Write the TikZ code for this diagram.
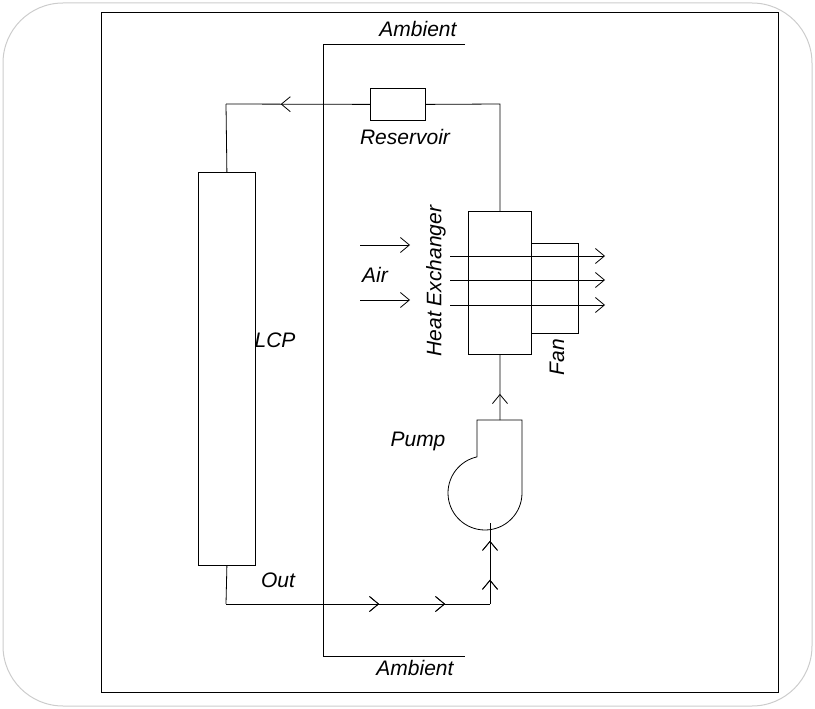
\documentclass[tikz,border=0pt]{standalone}
\usepackage{fontspec}
\setmainfont{Liberation Sans}
\usetikzlibrary{arrows.meta,decorations.markings}
\begin{document}
\begin{tikzpicture}[x=1pt,y=1pt,line width=0.8pt,
    lbl/.style={font=\itshape\fontsize{21}{21}\selectfont},
    box/.style={draw,inner sep=0pt,anchor=north west},
    barb/.tip={Straight Barb[length=9pt,width=15pt,line width=0.8pt]},
    tip/.style={-barb},
    mid/.style={postaction={decorate},decoration={markings,
        mark=at position #1 with {\arrow{barb}}}}]
    \useasboundingbox (0,0) rectangle (815,-709);
    % frames
    \draw[gray!40,line width=1pt,rounded corners=60pt] (3,-3) rectangle (812,-706);
    \draw (101,-12) rectangle (778,-692);
    % ambient boundary
    \draw (465,-44) -- (323,-44) -- (323,-656) -- (465,-656);
    \node[lbl] (amb1) at (418,-29) {Ambient};
    \node[lbl] (amb2) at (415,-668) {Ambient};
    % components
    \node[box,minimum width=55pt,minimum height=32pt] (res) at (370,-88) {};
    \node[lbl] (reslbl) at (405,-137) {Reservoir};
    \node[box,minimum width=57pt,minimum height=393pt] (lcp) at (198,-172) {};
    \node[lbl] (lcplbl) at (275,-340) {LCP};
    \node[box,minimum width=63pt,minimum height=143pt] (hx) at (468,-211) {};
    \node[lbl,rotate=90] (hxlbl) at (436,-281) {Heat Exchanger};
    \draw (531,-243) -- (578,-243) -- (578,-333) -- (531,-333);
    \node[lbl,rotate=90] (fanlbl) at (557,-357) {Fan};
    % pump
    \coordinate (ptop) at (500,-420);
    \coordinate (pout) at (490,-523);
    \draw (477,-457) -- (477,-420) -- (522,-420) -- (522,-493)
        arc[start angle=0,end angle=-257.5,radius=37];
    \node[lbl] (pumplbl) at (418,-441) {Pump};
    % air
    \foreach \y in {256,280,305}
        \draw[tip] (450,-\y) -- (605,-\y);
    \foreach \y in {245,300}
        \draw[tip] (360,-\y) -- (410,-\y);
    \node[lbl] (airlbl) at (375,-275) {Air};
    % coolant loop
    \coordinate (tl) at (226,-104);
    \coordinate (bl) at (226,-604);
    \coordinate (br) at (490,-604);
    \draw[mid=0.62] (res.west) -- (tl);
    \draw (tl) -- (lcp.north);
    \draw (res.east) -- (500,-104) -- (hx.north);
    \draw[mid=0.4] (ptop) -- (hx.south);
    \draw (lcp.south) -- (bl);
    \draw[mid=0.58,mid=0.83] (bl) -- (br);
    \draw[mid=0.3,mid=0.78] (br) -- (pout);
    \node[lbl] (outlbl) at (278,-580) {Out};
\end{tikzpicture}
\end{document}
